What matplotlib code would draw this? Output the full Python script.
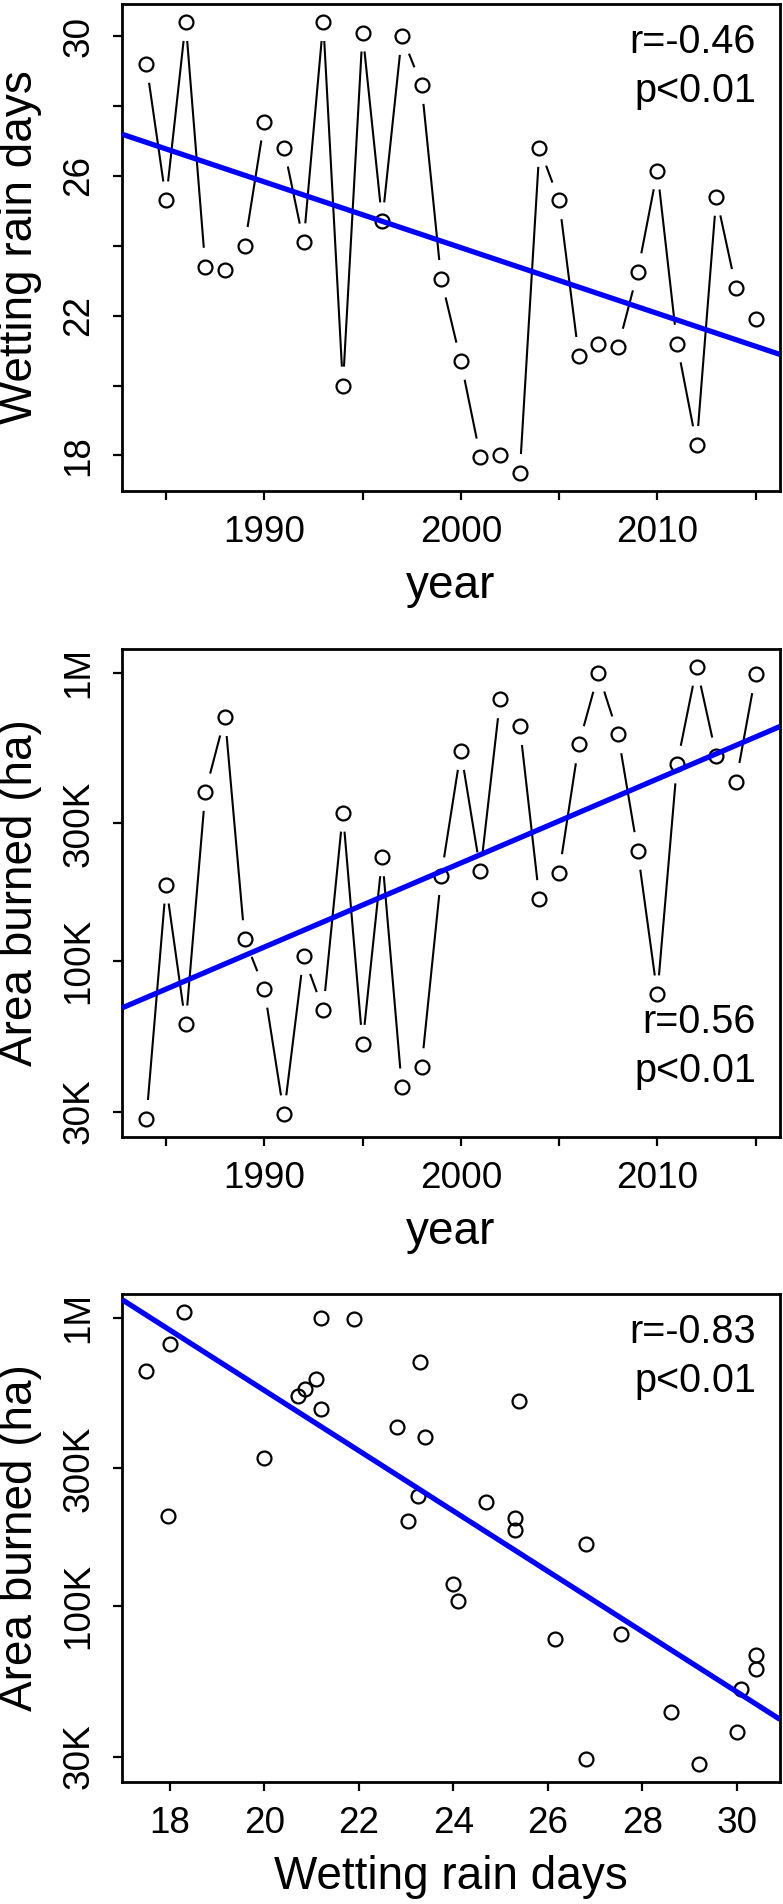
import numpy as np
import matplotlib
matplotlib.use('Agg')
import matplotlib.pyplot as plt

plt.rcParams['font.family'] = ['Liberation Sans', 'DejaVu Sans']

# values
years = [1984, 1985, 1986, 1987, 1988, 1989, 1990, 1991, 1992, 1993, 1994,
         1995, 1996, 1997, 1998, 1999, 2000, 2001, 2002, 2003, 2004, 2005,
         2006, 2007, 2008, 2009, 2010, 2011, 2012, 2013, 2014, 2015]
wet_days = [29.2, 25.3, 30.4, 23.4, 23.3, 24.0, 27.55, 26.8, 24.1, 30.4, 20.0,
            30.1, 24.7, 30.0, 28.6, 23.05, 20.7, 17.95, 18.0, 17.5, 26.8, 25.3,
            20.85, 21.2, 21.1, 23.25, 26.15, 21.2, 18.3, 25.4, 22.8, 21.9]
area_ha = [28300, 184000, 60200, 386000, 702000, 119000, 80000, 29400, 104000,
           67600, 327000, 51600, 229000, 36400, 42800, 197000, 535000, 205000,
           809000, 653000, 164000, 202000, 564000, 995000, 611000, 241000,
           76600, 481000, 1047000, 514000, 419000, 987000]

stats = [['r=-0.46', 'p<0.01'], ['r=0.56', 'p<0.01'], ['r=-0.83', 'p<0.01']]

year_ticks = [1985, 1990, 1995, 2000, 2005, 2010, 2015]
year_labels = ['', '1990', '', '2000', '', '2010', '']
days_ticks = [18, 20, 22, 24, 26, 28, 30]
days_labels_y = ['18', '', '22', '', '26', '', '30']
area_ticks = [30000, 100000, 300000, 1000000]
area_labels = ['30K', '100K', '300K', '1M']

x_year = np.array(years, dtype=float)
x_days = np.array(wet_days)
y_area = np.array(area_ha, dtype=float)

TICK_FS = 26.6
LAB_FS = 33
TXT_FS = 28.5

fig = plt.figure(figsize=(7.83, 19.04), dpi=100)
W, H = 783, 1904


def make_ax(top, bottom):
    return fig.add_axes([122 / W, 1 - bottom / H, 658 / W, (bottom - top) / H])


def rlim(v, log=False):
    # R style: data range plus 4% each side
    v = np.log10(v) if log else np.asarray(v)
    lo, hi = v.min(), v.max()
    pad = 0.04 * (hi - lo)
    lo, hi = lo - pad, hi + pad
    return (10 ** lo, 10 ** hi) if log else (lo, hi)


def style(ax, xt, xl, yt, yl):
    for s in ax.spines.values():
        s.set_linewidth(2.0)
    ax.set_xticks(xt)
    ax.set_xticklabels(xl)
    ax.set_yticks(yt)
    ax.set_yticklabels(yl, rotation=90, va='center')
    ax.minorticks_off()
    ax.tick_params(axis='both', direction='out', length=6.5, width=1.6,
                   labelsize=TICK_FS)
    ax.tick_params(axis='x', pad=11)
    ax.tick_params(axis='y', pad=12)


def type_b(ax, x, y, gap=19):
    # R type="b": segments stop short of each point
    pts = ax.transData.transform(np.column_stack([x, y]))
    inv = ax.transData.inverted()
    for p0, p1 in zip(pts[:-1], pts[1:]):
        d = p1 - p0
        L = np.hypot(*d)
        if L <= 2 * gap:
            continue
        u = d / L
        seg = inv.transform(np.array([p0 + u * gap, p1 - u * gap]))
        ax.plot(seg[:, 0], seg[:, 1], color='black', lw=1.5,
                solid_capstyle='butt')


def points(ax, x, y):
    ax.plot(x, y, 'o', mfc='none', mec='black', ms=10, mew=1.6, zorder=3)


def fit_line(ax, x, y, log=False):
    yy = np.log10(y) if log else y
    b, a = np.polyfit(x, yy, 1)
    xs = np.array(ax.get_xlim())
    ys = a + b * xs
    if log:
        ys = 10 ** ys
    ax.plot(xs, ys, color='#0000ff', lw=3.8, zorder=4, solid_capstyle='butt')


def labels(ax, xlabel, ylabel):
    ax.annotate(xlabel, xy=(0.5, 0), xycoords='axes fraction',
                xytext=(0, -107 * 0.72), textcoords='offset points',
                ha='center', va='baseline', fontsize=LAB_FS)
    ax.annotate(ylabel, xy=(0, 0.5), xycoords='axes fraction',
                xytext=(-90 * 0.72, 0), textcoords='offset points',
                rotation=90, rotation_mode='anchor',
                ha='center', va='baseline', fontsize=LAB_FS)


def stat_text(ax, lines, top=True):
    if top:
        offs = [-49, -98]
        y0 = 1
    else:
        offs = [104, 55]
        y0 = 0
    for s, o in zip(lines, offs):
        ax.annotate(s, xy=(1, y0), xycoords='axes fraction',
                    xytext=(-24 * 0.72, o * 0.72), textcoords='offset points',
                    ha='right', va='baseline', fontsize=TXT_FS)


# panel 1: wetting rain days by year
ax1 = make_ax(4, 491)
ax1.set_xlim(rlim(x_year))
ax1.set_ylim(rlim(x_days))
style(ax1, year_ticks, year_labels, days_ticks, days_labels_y)
type_b(ax1, x_year, x_days)
points(ax1, x_year, x_days)
fit_line(ax1, x_year, x_days)
labels(ax1, 'year', 'Wetting rain days')
stat_text(ax1, stats[0])

# panel 2: area burned by year
ax2 = make_ax(649, 1137)
ax2.set_yscale('log')
ax2.set_xlim(rlim(x_year))
ax2.set_ylim(rlim(y_area, log=True))
style(ax2, year_ticks, year_labels, area_ticks, area_labels)
type_b(ax2, x_year, y_area)
points(ax2, x_year, y_area)
fit_line(ax2, x_year, y_area, log=True)
labels(ax2, 'year', 'Area burned (ha)')
stat_text(ax2, stats[1], top=False)

# panel 3: area burned vs wetting rain days
ax3 = make_ax(1294, 1782)
ax3.set_yscale('log')
ax3.set_xlim(rlim(x_days))
ax3.set_ylim(rlim(y_area, log=True))
style(ax3, days_ticks, [str(t) for t in days_ticks], area_ticks, area_labels)
points(ax3, x_days, y_area)
fit_line(ax3, x_days, y_area, log=True)
labels(ax3, 'Wetting rain days', 'Area burned (ha)')
stat_text(ax3, stats[2])

fig.savefig('out.png', dpi=100)
